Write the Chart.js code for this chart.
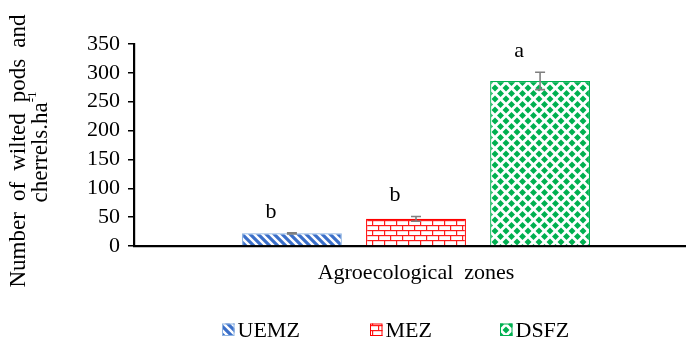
<!DOCTYPE html>
<html>
<head>
<meta charset="utf-8">
<script src="https://cdn.jsdelivr.net/npm/chart.js@4"></script>
<style>
  html, body { margin: 0; padding: 0; background: #ffffff; overflow: hidden; }
  #wrap { position: relative; width: 700px; height: 343px; }
</style>
</head>
<body>
<div id="wrap"><canvas id="chart"></canvas></div>
<script>
// Data
const categories = ['Agroecological  zones'];
const zones = ['UEMZ', 'MEZ', 'DSFZ'];
const means = [22, 47, 286];
const errors = [1, 4, 15];
const letters = ['b', 'b', 'a'];
const yTickValues = [0, 50, 100, 150, 200, 250, 300, 350];

const SERIF = '"Liberation Serif", "Times New Roman", serif';
const FS = 22;
const TITLE_FS = 23;

// Fill patterns for the three zones
function makeTile(w, h, draw) {
  const c = document.createElement('canvas');
  c.width = w; c.height = h;
  const g = c.getContext('2d');
  g.fillStyle = '#ffffff';
  g.fillRect(0, 0, w, h);
  draw(g, w, h);
  return document.createElement('canvas').getContext('2d').createPattern(c, 'repeat');
}

const stripePattern = makeTile(8, 8, (g, w, h) => {
  g.strokeStyle = '#3b6fc9';
  g.lineWidth = 3.2;
  g.lineCap = 'square';
  for (let k = -1; k <= 1; k++) {
    g.beginPath();
    g.moveTo(k * w - 2, -2);
    g.lineTo(k * w + w + 2, h + 2);
    g.stroke();
  }
});

const brickPattern = makeTile(12, 10, (g, w, h) => {
  g.fillStyle = '#ff1a1a';
  g.fillRect(0, 0, w, 1.2);
  g.fillRect(0, 5, w, 1.2);
  g.fillRect(0, 0, 1.2, 5);
  g.fillRect(6, 5, 1.2, 5);
});

const diamondPattern = makeTile(11, 11, (g, w, h) => {
  g.fillStyle = '#00b050';
  const r = 3.5;
  const centers = [[w / 2, h / 2], [0, 0], [w, 0], [0, h], [w, h]];
  for (const [cx, cy] of centers) {
    g.beginPath();
    g.moveTo(cx, cy - r);
    g.lineTo(cx + r, cy);
    g.lineTo(cx, cy + r);
    g.lineTo(cx - r, cy);
    g.closePath();
    g.fill();
  }
});

const fills = [stripePattern, brickPattern, diamondPattern];
const borders = ['#8db3e2', '#ff0000', '#00b050'];

// Draws a line of text with its word gaps widened so it spans `span` pixels
function spreadText(ctx, text, cx, cy, span) {
  const words = text.split(' ');
  const widths = words.map(w => ctx.measureText(w).width);
  const total = widths.reduce((a, b) => a + b, 0);
  const gap = (span - total) / (words.length - 1);
  let x = cx - span / 2;
  ctx.textAlign = 'left';
  words.forEach((w, i) => {
    ctx.fillText(w, x, cy);
    x += widths[i] + gap;
  });
}

// Error bars, significance letters, the two-line y title and the legend
const annotations = {
  id: 'annotations',
  afterDatasetsDraw(chart) {
    const ctx = chart.ctx;
    const y = chart.scales.y;
    ctx.save();
    chart.data.datasets.forEach((ds, i) => {
      const bar = chart.getDatasetMeta(i).data[0];
      const hi = y.getPixelForValue(means[i] + errors[i]);
      const lo = y.getPixelForValue(means[i] - errors[i]);
      ctx.strokeStyle = '#7f7f7f';
      ctx.lineWidth = 1.6;
      ctx.beginPath();
      ctx.moveTo(bar.x, hi); ctx.lineTo(bar.x, lo);
      ctx.moveTo(bar.x - 5, hi); ctx.lineTo(bar.x + 5, hi);
      ctx.moveTo(bar.x - 5, lo); ctx.lineTo(bar.x + 5, lo);
      ctx.stroke();

      ctx.fillStyle = '#000000';
      ctx.font = FS + 'px ' + SERIF;
      ctx.textAlign = 'center';
      ctx.textBaseline = 'middle';
      ctx.fillText(letters[i], bar.x - 21, hi - 21);
    });
    ctx.restore();
  },
  afterDraw(chart) {
    const ctx = chart.ctx;
    ctx.save();
    ctx.fillStyle = '#000000';
    ctx.font = TITLE_FS + 'px ' + SERIF;
    ctx.textBaseline = 'middle';

    // y-axis title, rotated
    ctx.save();
    ctx.translate(19, 151);
    ctx.rotate(-Math.PI / 2);
    spreadText(ctx, 'Number of wilted pods and', 0, 0, 273);
    ctx.restore();

    ctx.save();
    ctx.translate(41, 147);
    ctx.rotate(-Math.PI / 2);
    const main = 'cherrels.ha';
    const wMain = ctx.measureText(main).width;
    ctx.font = '13px ' + SERIF;
    const wSup = ctx.measureText('-1').width;
    const start = -(wMain + wSup) / 2;
    ctx.textAlign = 'left';
    ctx.font = TITLE_FS + 'px ' + SERIF;
    ctx.fillText(main, start, 0);
    ctx.font = '13px ' + SERIF;
    ctx.fillText('-1', start + wMain, -8);
    ctx.restore();

    // legend
    const legendX = [222, 370, 500];
    const legendY = 323.5;
    const box = 12.5;
    zones.forEach((z, i) => {
      const x = legendX[i];
      ctx.fillStyle = fills[i];
      ctx.fillRect(x, legendY, box, box);
      ctx.strokeStyle = borders[i];
      ctx.lineWidth = 1;
      ctx.strokeRect(x + 0.5, legendY + 0.5, box - 1, box - 1);
      ctx.fillStyle = '#000000';
      ctx.font = FS + 'px ' + SERIF;
      ctx.textAlign = 'left';
      ctx.textBaseline = 'alphabetic';
      ctx.fillText(z, x + box + 3, legendY + 13);
    });
    ctx.restore();
  }
};

new Chart(document.getElementById('chart'), {
  type: 'bar',
  data: {
    labels: categories,
    datasets: zones.map((z, i) => ({
      label: z,
      data: [means[i]],
      backgroundColor: fills[i],
      borderColor: borders[i],
      borderWidth: 1.2,
      categoryPercentage: 0.66,
      barPercentage: 0.805
    }))
  },
  options: {
    responsive: true,
    maintainAspectRatio: false,
    animation: false,
    devicePixelRatio: 1,
    layout: { padding: { top: 44, right: 2, bottom: 57, left: 0 } },
    plugins: {
      legend: { display: false },
      tooltip: { enabled: false }
    },
    scales: {
      x: {
        grid: { display: false },
        border: { display: true, color: '#000000', width: 2.2 },
        ticks: { color: '#000000', font: { family: SERIF, size: FS }, padding: 6 },
        afterFit(scale) { scale.height = 40; }
      },
      y: {
        min: 0,
        max: 350,
        afterBuildTicks(scale) { scale.ticks = yTickValues.map(v => ({ value: v })); },
        grid: { display: true, drawOnChartArea: false, drawTicks: true, tickLength: 6, color: '#000000', lineWidth: 1.5 },
        border: { display: true, color: '#000000', width: 2.2 },
        ticks: { color: '#000000', font: { family: SERIF, size: FS }, padding: 8, autoSkip: false },
        afterFit(scale) { scale.width = 134; }
      }
    }
  },
  plugins: [annotations]
});
</script>
</body>
</html>
